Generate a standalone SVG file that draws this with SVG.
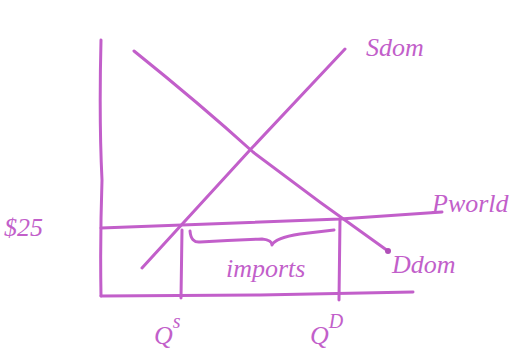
<svg xmlns="http://www.w3.org/2000/svg" width="531" height="356" viewBox="0 0 531 356">
<style>
.ln{fill:none;stroke:#c25fca;stroke-width:3;stroke-linecap:round;stroke-linejoin:round}
.tx{fill:#c25fca;font-family:"Liberation Serif",serif;font-style:italic;font-size:26px}
</style>
<rect width="531" height="356" fill="#fff"/>
<g id="axes">
<path class="ln" d="M101 40 Q99 120 102 180 Q100 240 101 296"/>
<path class="ln" d="M101 296 L260 295 L413 292"/>
</g>
<g id="connectors">
<path id="supply" class="ln" d="M142 268 L250 150 L345 49"/>
<path id="demand" class="ln" d="M134 51 Q200 104 253 152 Q320 203 388 251"/>
<circle cx="388" cy="251" r="3" fill="#b050b8"/>
<path id="pworld" class="ln" d="M101 228 L340 219 L442 212"/>
<path id="qs-line" class="ln" d="M182 230 L181 298"/>
<path id="qd-line" class="ln" d="M340 219 L339 300"/>
<path id="brace" class="ln" d="M190 231 Q191 243 200 242 Q230 240 262 239 Q272 240 272 245 Q275 238 300 234 L334 230"/>
</g>
<g id="label-sdom"><text class="tx" x="366" y="56" font-size="30">Sdom</text></g>
<g id="label-pworld"><text class="tx" x="432" y="212" font-size="28">Pworld</text></g>
<g id="label-price"><text class="tx" x="4" y="236" font-size="34">$25</text></g>
<g id="label-ddom"><text class="tx" x="392" y="273" font-size="28">Ddom</text></g>
<g id="label-imports"><text class="tx" x="226" y="277">imports</text></g>
<g id="label-qs"><text class="tx" x="154" y="344" font-size="34">Q<tspan font-size="20" dy="-16">s</tspan></text></g>
<g id="label-qd"><text class="tx" x="310" y="344" font-size="34">Q<tspan font-size="20" dy="-16">D</tspan></text></g>
</svg>
